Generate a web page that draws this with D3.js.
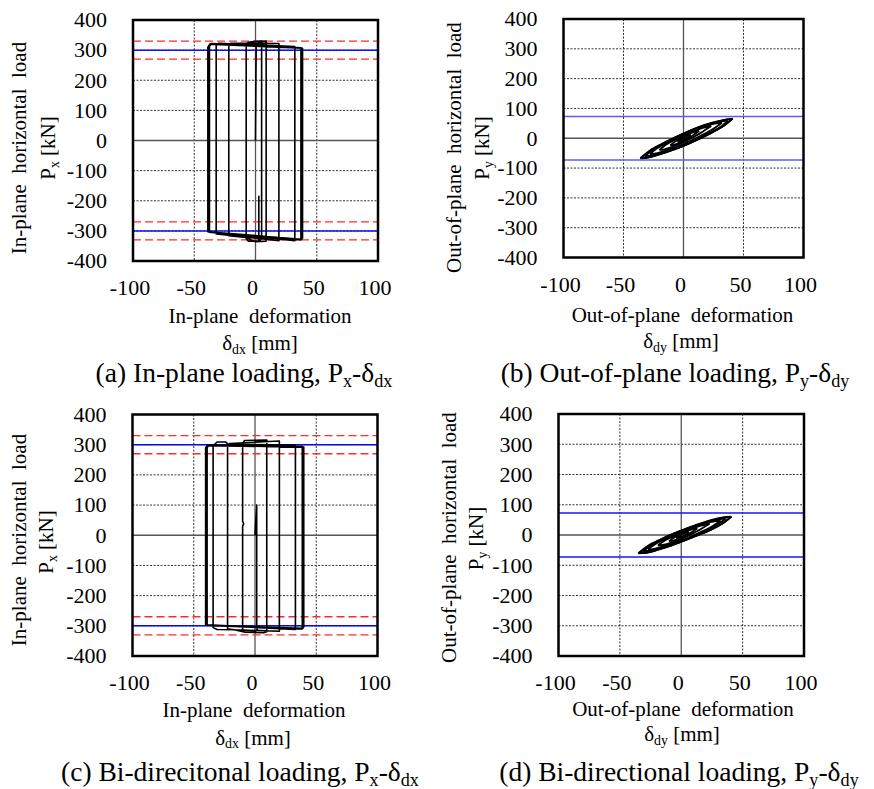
<!DOCTYPE html>
<html>
<head>
<meta charset="utf-8">
<script src="https://cdn.jsdelivr.net/npm/d3@7"></script>
<style>
  html, body { margin: 0; padding: 0; background: #fff; }
  svg { display: block; }
</style>
</head>
<body>
<svg id="fig" width="874" height="789"></svg>
<script>
// ---- axis ticks shared by the four panels ----
const xTicks = [-100, -50, 0, 50, 100];
const yTicks = [400, 300, 200, 100, 0, -100, -200, -300, -400];
const xGrid = [-50, 50];
const yGrid = [-300, -200, -100, 100, 200, 300];

// ---- reference load levels [kN] ----
const inPlaneCapacity = [300, -300];          // blue solid
const inPlaneBounds = [330, 270, -270, -330];  // red dashed
const outPlaneCapacity = [73, -73];            // blue solid

// ---- (a) in-plane loading: P_x vs delta_dx [mm, kN] ----
const curveA = [
  [0, 0], [0.3, 190], [0.6, 318], [4, 328], [5, 330], [5, -326], [2.7, -334], [2.7, -185], [2.7, -334],
  [-6, -334], [-7.6, -326], [-7.6, 318], [-6, 326], [0, 329], [8.7, 330],
  [8.7, -334], [0, -336], [-8, -322], [-21.8, -316], [-21.8, 316], [-20, 323], [19.1, 322],
  [19.1, -333], [-22, -314], [-32.1, -310], [-32.1, 316], [-30, 323], [32.1, 312],
  [32.1, -333], [-37.6, -303], [-37.6, 312], [-36, 322], [37.1, 308],
  [37.1, -330], [-38.3, -304], [-38.3, 312], [-36.5, 321], [37.8, 307], [37.8, -328],
  [-38.9, -303], [-38.9, 310], [-37.3, 320], [38.4, 306], [38.4, -326]
];

// ---- (c) bi-directional loading: P_x vs delta_dx [mm, kN] ----
const curveC = [
  [0, 0], [0.8, 60], [1.4, 100], [1.4, -300], [1.9, -312], [0, -320], [-8, -321], [-10.1, -318],
  [-10.1, 30], [-9.2, 38], [-10.1, 46], [-10.1, 305], [-8.5, 314], [9.6, 315],
  [9.6, -320], [7, -323], [-8, -321], [-17, -313], [-22.4, -310], [-22.4, 298], [-20.5, 304], [19.9, 312],
  [19.9, -318], [-17, -313], [-31, -312], [-34.2, -306], [-34.2, 296], [-31, 309], [-24, 309], [-22, 302], [33, 298],
  [33, -312], [-39.1, -298], [-39.1, 290], [-37.8, 298], [38.6, 295],
  [38.6, -310], [-39.7, -297], [-39.7, 291], [-38.4, 299], [39.2, 293], [39.2, -308], [-40.3, -298], [-40.3, 290],
  [-39, 297], [39.8, 292], [39.8, -306]
];

// ---- (b) out-of-plane loading: P_y vs delta_dy, one [upper, lower] branch pair per cycle ----
const loopsB = [
  [[[-36, -67], [-28, -41], [-18, -19], [-7, 3], [3, 21], [13, 38], [24, 52], [33, 61], [40.5, 65]],
   [[-36, -67], [-30, -65], [-21, -55], [-10, -41], [1, -24], [12, -4], [23, 18], [33, 41], [40.5, 65]]],
  [[[-35, -66], [-27, -40], [-17, -18], [-6, 4], [4, 22], [14, 38], [25, 52], [34, 61], [41, 66]],
   [[-35, -66], [-29, -64], [-20, -54], [-9, -39], [2, -22], [13, -2], [24, 20], [34, 43], [41, 66]]],
  [[[-32, -60], [-25, -37], [-15, -14.7], [-4, 7.4], [6, 24.6], [16, 40], [26, 52], [33, 57], [37, 59]],
   [[-32, -60], [-27, -57.4], [-19, -49.6], [-8, -35.6], [3, -18.6], [14, 1.4], [25, 24.3], [32, 41.4], [37, 59]]],
  [[[-28, -53], [-22, -33.5], [-13, -14], [-3, 6], [7, 23], [17, 39], [26, 49.5], [32, 52]],
   [[-28, -53], [-24, -52], [-16, -43], [-6, -29.5], [4, -12], [14, 7.5], [24, 29], [32, 52]]],
  [[[-20, -39], [-15, -22.7], [-8, -6.7], [0, 9], [8, 23], [16, 35], [23, 41]],
   [[-20, -39], [-16, -37.6], [-9, -28.5], [-1, -14.7], [7, 1], [14, 17], [23, 41]]],
  [[[-11, -24], [-7, -11], [0, 5.5], [7, 18.7], [13, 25]],
   [[-11, -24], [-6, -19.8], [1, -6.5], [8, 10], [13, 25]]],
  [[[-5, -12], [-1, -1], [3, 8], [6, 12]],
   [[-5, -12], [-2, -8], [2, -1], [6, 12]]]
];

// ---- (d) bi-directional loading: P_y vs delta_dy ----
const loopsD = [
  [[[-35, -60.5], [-27, -36], [-17, -15], [-6, 5], [4, 21], [14, 36], [25, 50], [34, 58], [40.5, 60.5]],
   [[-35, -60.5], [-29, -59], [-20, -50], [-9, -36], [2, -19], [12, -3], [23, 15], [33, 37], [40.5, 60.5]]],
  [[[-34, -60], [-26, -35], [-16, -14], [-5, 6], [5, 21], [15, 35], [26, 49], [35, 57], [41, 60]],
   [[-34, -60], [-28, -58], [-19, -48], [-8, -34], [3, -17], [13, -1], [24, 17], [34, 39], [41, 60]]],
  [[[-31, -54], [-24, -32.7], [-14, -11.6], [-3, 8.9], [7, 24.3], [17, 38.4], [27, 49.5], [32, 52.6], [36, 54]],
   [[-31, -54], [-26, -51.9], [-18, -44], [-7, -31.3], [4, -14.6], [15, 4.1], [25, 24.2], [31, 38.9], [36, 54]]],
  [[[-27, -47], [-21, -29.4], [-12, -11], [-2, 7], [8, 23], [18, 36], [26, 44.5], [32, 47]],
   [[-27, -47], [-23, -46.6], [-15, -38], [-5, -25], [5, -10], [15, 8], [25, 28], [32, 47]]],
  [[[-19, -35], [-14, -19.4], [-7, -5.4], [1, 9.3], [9, 22], [16, 31], [23, 37]],
   [[-19, -35], [-15, -33], [-8, -25], [0, -12.4], [8, 2.3], [15, 17.3], [23, 37]]],
  [[[-10, -21], [-6, -8.5], [1, 5.6], [8, 17.7], [13, 22]],
   [[-10, -21], [-5, -16.7], [2, -4.6], [9, 10.5], [13, 22]]],
  [[[-4, -10], [-1, -2], [3, 6], [6, 11]],
   [[-4, -10], [-1, -7], [3, -1], [6, 11]]]
];

// ---- labels: [text, "sub"] fragments ----
const yTitleInPlane = [[["In-plane  horizontal  load"]], [["P"], ["x", "sub"], [" [kN]"]]];
const yTitleOutPlane = [[["Out-of-plane  horizontal  load"]], [["P"], ["y", "sub"], [" [kN]"]]];
const xTitleInPlane = [[["In-plane  deformation"]], [["δ"], ["dx", "sub"], [" [mm]"]]];
const xTitleOutPlane = [[["Out-of-plane  deformation"]], [["δ"], ["dy", "sub"], [" [mm]"]]];
const captionA = [["(a) In-plane loading, P"], ["x", "sub"], ["-δ"], ["dx", "sub"]];
const captionB = [["(b) Out-of-plane loading, P"], ["y", "sub"], ["-δ"], ["dy", "sub"]];
const captionC = [["(c) Bi-direcitonal loading, P"], ["x", "sub"], ["-δ"], ["dx", "sub"]];
const captionD = [["(d) Bi-directional loading, P"], ["y", "sub"], ["-δ"], ["dy", "sub"]];

// ---- panel layout ----
const panels = [
  { box: [133, 378, 20, 261], curve: curveA, bounds: inPlaneBounds, cap: inPlaneCapacity, capColor: "#1010ff",
    yTitle: yTitleInPlane, yT: [[26, 148], [55, 148]], xTitle: xTitleInPlane, xT: [[260, 323], [260, 350]],
    caption: captionA, capPos: [244, 382] },
  { box: [563.5, 803.5, 19, 257.5], loops: loopsB, cap: outPlaneCapacity, capColor: "#5c5cf6",
    yTitle: yTitleOutPlane, yT: [[460.5, 147.5], [489, 148]], xTitle: xTitleOutPlane, xT: [[682.5, 322], [681, 348]],
    caption: captionB, capPos: [675, 382] },
  { box: [132.5, 377.5, 414.5, 656], curve: curveC, bounds: inPlaneBounds, cap: inPlaneCapacity, capColor: "#0a0ae8",
    yTitle: yTitleInPlane, yT: [[26, 540], [53, 542]], xTitle: xTitleInPlane, xT: [[254, 717], [253, 744.5]],
    caption: captionC, capPos: [240, 781] },
  { box: [558.5, 804, 414, 656], loops: loopsD, cap: outPlaneCapacity, capColor: "#1515ff",
    yTitle: yTitleOutPlane, yT: [[455.5, 537.5], [483, 538.5]], xTitle: xTitleOutPlane, xT: [[683, 716], [682, 741]],
    caption: captionD, capPos: [679, 781] }
];

const FONT = "'Liberation Serif', 'Times New Roman', Times, serif";
const TICK_FS = 22, TITLE_FS = 21, CAP_FS = 27.5;

const svg = d3.select("#fig");
svg.append("rect").attr("width", 874).attr("height", 789).attr("fill", "#fff");

function rich(sel, parts, fs) {
  let shifted = false;
  parts.forEach(([t, kind]) => {
    const ts = sel.append("tspan").text(t);
    if (kind === "sub") {
      ts.attr("font-size", fs * 0.66).attr("dy", shifted ? 0 : fs * 0.18);
      shifted = true;
    } else if (shifted) {
      ts.attr("dy", -fs * 0.18);
      shifted = false;
    }
  });
}

panels.forEach(p => {
  const [x0, x1, y0, y1] = p.box;
  const x = d3.scaleLinear().domain([-100, 100]).range([x0, x1]);
  const y = d3.scaleLinear().domain([-400, 400]).range([y1, y0]);
  const g = svg.append("g").attr("font-family", FONT).attr("fill", "#000");

  // dashed grid
  g.selectAll(null).data(xGrid).join("line")
    .attr("x1", d => x(d)).attr("x2", d => x(d)).attr("y1", y0).attr("y2", y1)
    .attr("stroke", "#333").attr("stroke-width", 1).attr("stroke-dasharray", "2,1.5");
  g.selectAll(null).data(yGrid).join("line")
    .attr("y1", d => y(d)).attr("y2", d => y(d)).attr("x1", x0).attr("x2", x1)
    .attr("stroke", "#333").attr("stroke-width", 1).attr("stroke-dasharray", "2,1.5");

  // zero axes
  g.append("line").attr("x1", x(0)).attr("x2", x(0)).attr("y1", y0).attr("y2", y1)
    .attr("stroke", "#555").attr("stroke-width", 1.3);
  g.append("line").attr("y1", y(0)).attr("y2", y(0)).attr("x1", x0).attr("x2", x1)
    .attr("stroke", "#555").attr("stroke-width", 1.3);

  // load levels
  if (p.bounds) {
    g.selectAll(null).data(p.bounds).join("line")
      .attr("y1", d => y(d)).attr("y2", d => y(d)).attr("x1", x0).attr("x2", x1)
      .attr("stroke", "#ff2a2a").attr("stroke-width", 1.4).attr("stroke-dasharray", "8,4");
  }
  g.selectAll(null).data(p.cap).join("line")
    .attr("y1", d => y(d)).attr("y2", d => y(d)).attr("x1", x0).attr("x2", x1)
    .attr("stroke", p.capColor).attr("stroke-width", 1.5);

  // hysteresis
  if (p.curve) {
    const line = d3.line().x(d => x(d[0])).y(d => y(d[1]));
    g.append("path").attr("d", line(p.curve)).attr("fill", "none")
      .attr("stroke", "#000").attr("stroke-width", 1.6).attr("stroke-linejoin", "round");
  }
  if (p.loops) {
    const line = d3.line().x(d => x(d[0])).y(d => y(d[1])).curve(d3.curveCatmullRom.alpha(0.5));
    p.loops.forEach(loop => loop.forEach(branch => {
      g.append("path").attr("d", line(branch)).attr("fill", "none")
        .attr("stroke", "#000").attr("stroke-width", 1.9);
    }));
  }

  // frame
  g.append("rect").attr("x", x0).attr("y", y0).attr("width", x1 - x0).attr("height", y1 - y0)
    .attr("fill", "none").attr("stroke", "#000").attr("stroke-width", 2.5);

  // tick labels
  g.selectAll(null).data(yTicks).join("text")
    .attr("x", x0 - 26).attr("y", d => y(d)).attr("dy", "0.33em")
    .attr("text-anchor", "end").attr("font-size", TICK_FS).text(d => d);
  g.selectAll(null).data(xTicks).join("text")
    .attr("x", d => x(d) - 3).attr("y", y1 + 34)
    .attr("text-anchor", "middle").attr("font-size", TICK_FS).text(d => d);

  // y title (two lines, rotated)
  p.yTitle.forEach((parts, i) => {
    const [tx, ty] = p.yT[i];
    const t = g.append("text").attr("transform", `translate(${tx},${ty}) rotate(-90)`)
      .attr("text-anchor", "middle").attr("font-size", TITLE_FS).style("white-space", "pre");
    rich(t, parts, TITLE_FS);
  });
  // x title (two lines)
  p.xTitle.forEach((parts, i) => {
    const [tx, ty] = p.xT[i];
    const t = g.append("text").attr("x", tx).attr("y", ty)
      .attr("text-anchor", "middle").attr("font-size", TITLE_FS).style("white-space", "pre");
    rich(t, parts, TITLE_FS);
  });
  // caption
  const c = g.append("text").attr("x", p.capPos[0]).attr("y", p.capPos[1])
    .attr("text-anchor", "middle").attr("font-size", CAP_FS);
  rich(c, p.caption, CAP_FS);
});
</script>
</body>
</html>
